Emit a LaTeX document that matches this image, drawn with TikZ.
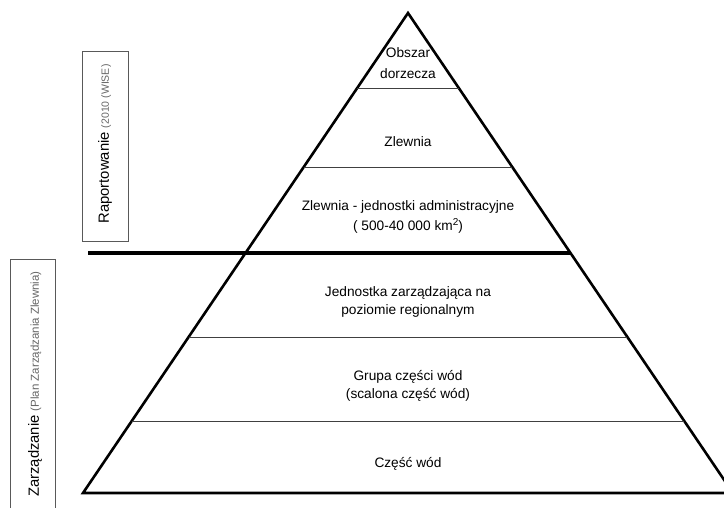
\documentclass[tikz,border=0pt]{standalone}
\usepackage{fontspec}
\setmainfont{Liberation Sans}
\usetikzlibrary{calc}
\begin{document}
\begin{tikzpicture}[x=1pt,y=-1pt,
  lbl/.style={font=\fontsize{13.7}{18}\selectfont, align=center, inner sep=0pt},
  edgeline/.style={line width=2.6pt, line join=miter},
  sepline/.style={line width=0.9pt, draw=black!75},
  sidebox/.style={draw=black!65, line width=0.8pt, inner sep=0pt},
  sidetxt/.style={rotate=90, inner sep=0pt, font=\fontsize{14.8}{16}\selectfont}]
\useasboundingbox (0,0) rectangle (724,507);
\clip (0,0) rectangle (724,507);
\fill[white] (0,0) rectangle (724,507);
% pyramid
\coordinate (apex) at (408,13);
\coordinate (bl) at (83,493);
\coordinate (br) at (733,493);
\draw[edgeline] (apex) -- (bl) -- (br) -- cycle;
% separators
\foreach \t [count=\i] in {0.158,0.321,0.675,0.85}{
  \coordinate (sl\i) at ($(apex)!\t!(bl)$);
  \coordinate (sr\i) at ($(apex)!\t!(br)$);
  \draw[sepline] (sl\i) -- (sr\i);
}
% thick divider
\coordinate (tk) at (88,253);
\coordinate (tkr) at ($(apex)!0.5!(br)$);
\draw[line width=4pt] (tk) -- (tkr);
% labels
\node[lbl, font=\fontsize{13.7}{21}\selectfont] (n1) at (408,63) {Obszar\\dorzecza};
\node[lbl] (n2) at (408,142) {Zlewnia};
\node[lbl, font=\fontsize{13.7}{20}\selectfont] (n3) at (408,217) {Zlewnia - jednostki administracyjne\\( 500-40 000 km\raisebox{5pt}{\fontsize{10}{10}\selectfont 2})};
\node[lbl] (n4) at (408,302) {Jednostka zarządzająca na\\poziomie regionalnym};
\node[lbl] (n5) at (408,386) {Grupa części wód\\(scalona część wód)};
\node[lbl] (n6) at (408,464) {Część wód};
% side boxes
\node[sidebox, minimum width=46, minimum height=190] (rbox) at (105,146) {};
\node[sidetxt] (rtxt) at (105,144) {Raportowanie {\color{black!60}\fontsize{10.5}{12}\selectfont (2010 (WISE)}};
\node[sidebox, minimum width=45, minimum height=260] (zbox) at (32.5,389) {};
\node[sidetxt] (ztxt) at (35,384) {Zarządzanie {\color{black!60}\fontsize{11.5}{13}\selectfont (Plan Zarządzania Zlewnia)}};
\end{tikzpicture}
\end{document}
